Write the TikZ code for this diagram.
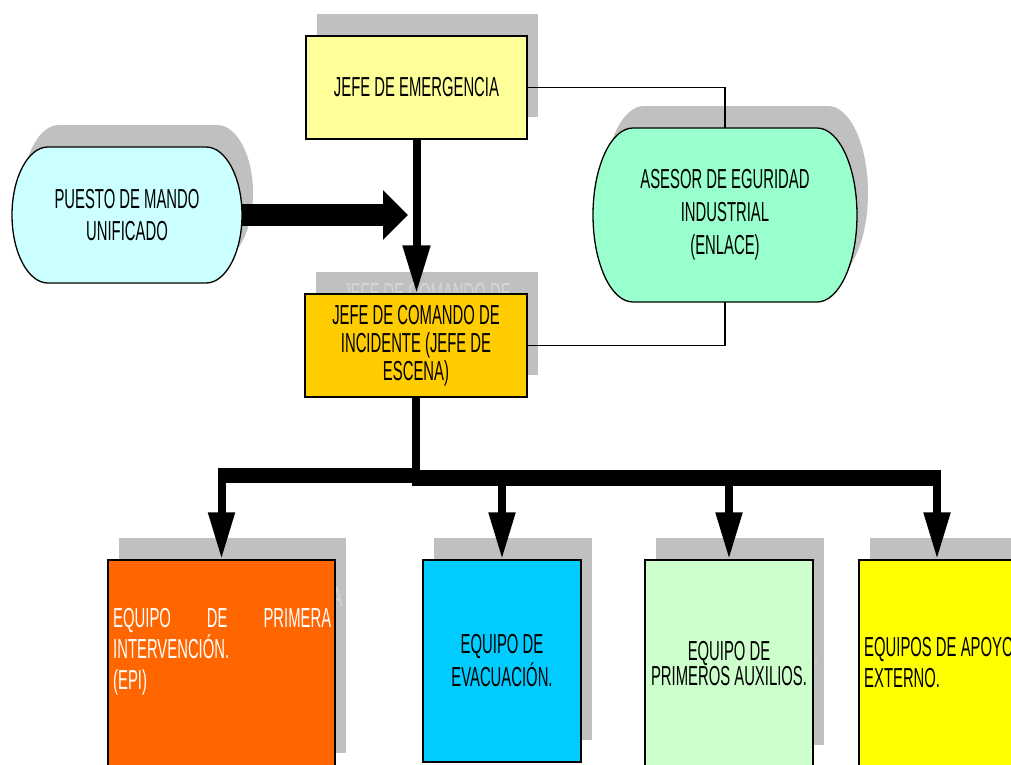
\documentclass[tikz,border=0pt]{standalone}
\usepackage{fontspec}
\setmainfont{Liberation Sans}[FakeStretch=0.54]
\usetikzlibrary{arrows.meta,calc}

\definecolor{shadowgray}{HTML}{C0C0C0}
\definecolor{ghosttext}{HTML}{D6D6D6}
\definecolor{jefeyellow}{HTML}{FFFF99}
\definecolor{comandogold}{HTML}{FFCC00}
\definecolor{puestocyan}{HTML}{CCFFFF}
\definecolor{asesorgreen}{HTML}{99FFCC}
\definecolor{epiorange}{HTML}{FF6600}
\definecolor{evacblue}{HTML}{00CCFF}
\definecolor{auxgreen}{HTML}{CCFFCC}
\definecolor{apoyoyellow}{HTML}{FFFF00}

% capsule outline: #1 path options, #2 left, #3 top (downward), #4 width, #5 height, #6 end radius
\newcommand{\capsuleshape}[6]{%
  \path[#1] (#2+#6,-#3) -- (#2+#4-#6,-#3)
    arc[start angle=90,end angle=-90,x radius=#6pt,y radius={#5pt/2}]
    -- (#2+#6,-#3-#5)
    arc[start angle=270,end angle=90,x radius=#6pt,y radius={#5pt/2}] -- cycle;}

\tikzset{
  lbl/.style={inner sep=0pt, align=center, text=black,
    font=\fontsize{27.5pt}{#1}\selectfont},
  lbl/.default={31pt},
  lblleft/.style={inner sep=0pt, align=left, anchor=north west,
    font=\fontsize{27.5pt}{#1}\selectfont},
  lblleft/.default={31pt},
  box/.style={draw=black, line width=1.3pt, inner sep=0pt},
  shadowbox/.style={fill=shadowgray, inner sep=0pt, text=ghosttext},
  outline/.style={draw=black, line width=1.3pt},
  thinlink/.style={draw=black, line width=1.3pt},
  stemline/.style={draw=black, line width=8pt, line join=miter},
  downtip/.style={-{Triangle[length=47pt,width=25pt]}},
}

\begin{document}
\begin{tikzpicture}[x=1pt,y=1pt]
\useasboundingbox (0,0) rectangle (1011,-764);
\fill[white] (0,0) rectangle (1011,-764);
\clip (0,0) rectangle (1011,-764);

% ---------- shadows ----------
\node[shadowbox, minimum width=221pt, minimum height=103pt] (jeS) at (427.5,-65.5) {};
\node[shadowbox, lbl=28pt, text=ghosttext, minimum width=222pt, minimum height=103pt] (jcS) at (427,-323.5) {JEFE DE COMANDO DE\\INCIDENTE (JEFE DE\\ESCENA)};
\node[shadowbox, minimum width=227pt, minimum height=215pt] (epiS) at (232.5,-645.5) {};
\node[lblleft, text=ghosttext] (epiStext) at (124,-587.4) {\makebox[218pt][s]{EQUIPO\hfill DE\hfill PRIMERA}\\INTERVENCIÓN.\\(EPI)};
\node[shadowbox, minimum width=158pt, minimum height=202pt] (evacS) at (513,-639) {};
\node[shadowbox, lbl=25pt, text=ghosttext, minimum width=168pt, minimum height=207pt] (auxS) at (740,-641.5) {EQUIPO DE\\PRIMEROS AUXILIOS.};
\node[shadowbox, minimum width=156pt, minimum height=207pt] (apoyoS) at (948,-641.5) {};
\capsuleshape{fill=shadowgray}{23}{125}{230}{136}{36}
\capsuleshape{fill=shadowgray}{604}{106}{264}{174}{40}

% ---------- capsules ----------
\capsuleshape{outline, fill=puestocyan}{12}{147}{230}{136}{36}
\capsuleshape{outline, fill=asesorgreen}{593}{128}{264}{174}{40}
\node[lbl=32pt, minimum width=230pt, minimum height=136pt] (puesto) at (127,-215) {PUESTO DE MANDO\\UNIFICADO};
\node[lbl=33pt, minimum width=264pt, minimum height=174pt] (asesor) at (725,-215) {ASESOR DE EGURIDAD\\INDUSTRIAL\\(ENLACE)};

% ---------- boxes ----------
\node[box, lbl, fill=jefeyellow, minimum width=221pt, minimum height=103pt] (je) at (416.5,-87.5) {JEFE DE EMERGENCIA};
\node[box, lbl=28pt, fill=comandogold, minimum width=222pt, minimum height=103pt] (jc) at (416,-345.5) {JEFE DE COMANDO DE\\INCIDENTE (JEFE DE\\ESCENA)};
\node[box, fill=epiorange, minimum width=227pt, minimum height=215pt] (epi) at (221.5,-667.5) {};
\node[lblleft, text=white] (epitext) at (113,-608.5) {\makebox[218pt][s]{EQUIPO\hfill DE\hfill PRIMERA}\\INTERVENCIÓN.\\(EPI)};
\node[box, lbl=33pt, fill=evacblue, minimum width=158pt, minimum height=202pt] (evac) at (502,-661) {EQUIPO DE\\EVACUACIÓN.};
\node[box, lbl=25pt, fill=auxgreen, minimum width=168pt, minimum height=207pt] (aux) at (729,-663.5) {EQUIPO DE\\PRIMEROS AUXILIOS.};
\node[box, fill=apoyoyellow, minimum width=156pt, minimum height=207pt] (apoyo) at (937,-663.5) {};
\node[lblleft, text=black] (apoyotext) at (864,-637.5) {EQUIPOS DE APOYO\\EXTERNO.};

% ---------- connectors ----------
\draw[thinlink] (je.east) -| (asesor.north);
\draw[thinlink] (asesor.south) |- (jc.east);

\draw[stemline, -{Triangle[length=48pt,width=26pt]}] (je.south) -- (je.south |- jc.north);

\coordinate (pmtip) at (408,-215);
\draw[line width=22pt, -{Triangle[length=25pt,width=48pt]}] (puesto.east) -- (pmtip);

\draw[stemline] (jc.south) -- ++(0,-75);
\draw[stemline, downtip] (jc.south) -- ++(0,-78) -| (epi.north);
\draw[stemline, downtip] (jc.south) -- ++(0,-80.5) -| (evac.north);
\draw[stemline, downtip] (jc.south) -- ++(0,-80.5) -| (aux.north);
\draw[stemline, downtip] (jc.south) -- ++(0,-80.5) -| (apoyo.north);
% distribution bar
\fill[black] (217.5,-468) rectangle (416,-483);
\fill[black] (412,-470) rectangle (941,-486);
\end{tikzpicture}
\end{document}
